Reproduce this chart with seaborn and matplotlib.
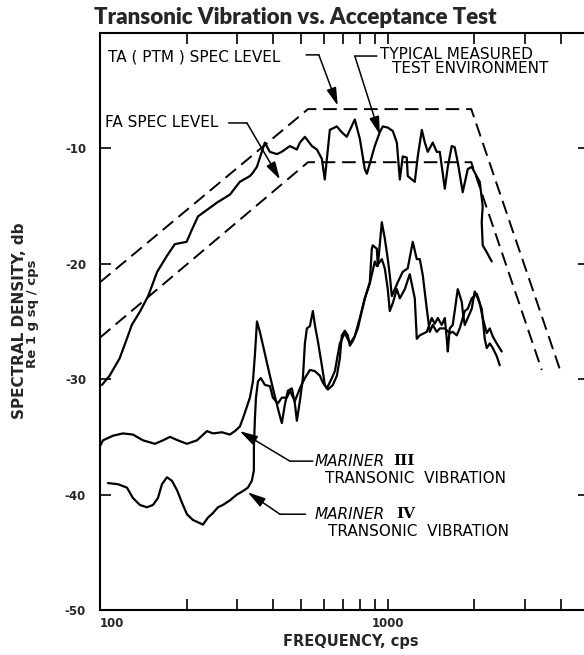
import matplotlib
matplotlib.use('Agg')
import matplotlib.pyplot as plt
import seaborn as sns
from matplotlib.ticker import NullFormatter

# spec levels, frequency (cps) vs spectral density (db)
ta_freq = [100, 528, 1950, 3956]
ta_db = [-21.6, -6.6, -6.6, -29.1]
fa_freq = [100, 528, 1950, 3427]
fa_db = [-26.4, -11.2, -11.2, -29.2]

# typical measured test environment
typ_freq = [101.6, 108, 117, 124, 129, 138, 147, 158, 171, 182,
            200, 209, 219, 255, 283, 306, 332, 340, 351, 365,
            374, 389, 412, 428, 457, 483, 495, 515, 545, 567,
            590, 604, 629, 665, 692, 720, 768, 800, 832, 846,
            901, 938, 961, 1000, 1041, 1075, 1101, 1127, 1164, 1173,
            1241, 1271, 1313, 1345, 1377, 1433, 1479, 1516, 1578, 1616,
            1668, 1708, 1750, 1821, 1896, 1957, 2005, 2087, 2137, 2120,
            2137, 2207, 2297]
typ_db = [-30.5, -29.7, -28.2, -26.5, -25.3, -24.1, -22.8, -20.7, -19.3, -18.3,
          -18.1, -17.0, -15.9, -14.7, -14.0, -12.9, -12.4, -12.1, -11.6, -10.3,
          -9.5, -10.3, -10.5, -10.3, -9.8, -10.1, -9.5, -9.0, -9.8, -10.1,
          -10.9, -12.7, -8.4, -8.1, -8.6, -9.0, -7.5, -9.2, -11.8, -12.2,
          -9.8, -8.6, -8.1, -8.2, -8.5, -9.5, -12.7, -10.7, -10.8, -12.4,
          -12.9, -10.7, -8.4, -9.5, -10.3, -9.5, -10.3, -10.3, -13.5, -11.6,
          -9.8, -9.9, -11.2, -13.8, -11.8, -11.6, -12.1, -12.9, -15.0, -16.4,
          -18.4, -19.0, -19.8]

# Mariner III transonic vibration
m3_low_freq = [100, 102.4, 110.9, 120.2, 130.2, 141.1, 155.2, 165.5, 175.0, 186.6,
               200.5, 217.2, 235.3, 246.9, 265.3, 282.7, 294.3, 306.3, 313.7, 318.8,
               331.8, 339.9, 345.4, 351.1]
m3_low_db = [-35.8, -35.3, -34.9, -34.7, -34.8, -35.3, -35.6, -35.3, -35.0, -35.3,
             -35.6, -35.3, -34.5, -34.7, -34.6, -34.8, -34.5, -34.1, -33.4, -32.9,
             -31.6, -30.2, -27.9, -25.0]
m3_high_freq = [359.4, 374.1, 389.4, 405.3, 421.7, 428.5, 438.9, 449.6, 464.2, 475.5,
                483.1, 494.9, 507.0, 515.2, 523.5, 536.3, 549.1, 558.0, 571.5, 590.0,
                604.4, 619.2, 644.5, 665.4, 681.3, 692.3, 709.1, 726.4, 738.2, 755.8,
                786.9, 812.5, 832.2, 866.0, 880.0, 887.0, 915.9, 923.4, 953.2, 976.3,
                1000, 1016, 1033, 1058, 1083, 1127, 1173, 1221, 1261, 1292,
                1323, 1366, 1399, 1433, 1479, 1516, 1578, 1642, 1681, 1736,
                1778, 1851, 1896, 1957, 2038, 2087, 2137, 2207, 2261, 2316,
                2390, 2488]
m3_high_db = [-25.9, -27.8, -29.7, -31.5, -33.2, -33.8, -32.2, -31.0, -30.8, -32.1,
              -33.6, -31.9, -29.9, -26.9, -25.6, -25.4, -24.1, -25.3, -26.7, -28.8,
              -30.5, -30.9, -30.5, -29.7, -28.2, -26.2, -25.8, -26.2, -27.1, -26.7,
              -25.6, -24.1, -23.0, -21.6, -18.7, -18.4, -18.7, -20.2, -16.4, -17.8,
              -19.6, -21.0, -22.8, -22.2, -21.6, -20.7, -20.4, -18.1, -19.6, -19.6,
              -21.0, -23.9, -25.9, -25.3, -25.9, -25.6, -25.6, -26.0, -25.9, -26.2,
              -25.6, -24.1, -23.9, -23.0, -22.6, -23.4, -24.7, -26.0, -25.6, -26.3,
              -26.9, -27.6]

# Mariner IV transonic vibration
m4_low_freq = [106.6, 115.5, 124.1, 130.2, 137.7, 145.6, 152.8, 159.0, 164.2, 170.9,
               177.8, 185.1, 192.7, 200.5, 210.4, 227.9, 237.1, 246.9, 256.9, 267.3,
               282.7, 299.0, 313.7, 326.5, 337.1, 342.6, 342.6, 345.4, 348.3, 353.9,
               362.2]
m4_low_db = [-39.0, -39.1, -39.4, -40.3, -40.9, -41.1, -40.9, -40.3, -39.1, -38.5,
             -38.8, -39.6, -40.7, -41.7, -42.2, -42.6, -42.0, -41.6, -41.1, -40.9,
             -40.5, -40.0, -39.7, -39.4, -38.8, -37.9, -35.9, -33.4, -31.6, -30.2,
             -29.9]
m4_high_freq = [374.1, 389.4, 398.8, 415.1, 428.5, 446.0, 456.9, 475.5, 494.9, 515.2,
                536.3, 558.0, 580.7, 594.8, 614.2, 639.3, 655, 681.3, 709.1, 738.2,
                767.6, 799.6, 832.2, 866.0, 901.4, 915.9, 953.2, 976.3, 1000, 1016,
                1041, 1075, 1101, 1146, 1192, 1241, 1261, 1292, 1366, 1422,
                1455, 1492, 1540, 1578, 1603, 1616, 1642, 1681, 1708, 1750,
                1807, 1821, 1851, 1896, 1957, 2005, 2054, 2120, 2172, 2207,
                2261, 2316, 2390, 2449]
m4_high_db = [-30.5, -30.6, -31.6, -32.1, -31.6, -31.6, -31.0, -31.9, -30.8, -29.9,
              -29.2, -29.3, -29.7, -30.3, -30.8, -29.9, -29.3, -26.9, -26.0, -26.9,
              -26.3, -24.7, -23.0, -21.7, -19.8, -20.2, -19.6, -20.4, -22.2, -24.1,
              -23.4, -22.2, -23.0, -22.2, -20.9, -23.0, -26.5, -26.2, -25.9, -24.7,
              -25.2, -24.7, -25.3, -24.7, -26.5, -27.6, -25.6, -25.3, -24.1, -22.2,
              -23.3, -24.1, -25.3, -24.7, -23.9, -22.4, -23.0, -23.9, -26.5, -27.3,
              -26.9, -27.3, -28.0, -28.8]

x_major = [100, 1000]
x_major_labels = ['100', '1000']
x_minor = [200, 300, 400, 500, 600, 700, 800, 900, 2000, 3000, 4000]
y_ticks = [-50, -40, -30, -20, -10]
y_labels = ['-50', '-40', '-30', '-20', '-10']

sns.set_style('ticks')
plt.rcParams['font.family'] = ['DejaVu Sans']

fig = plt.figure(figsize=(5.84, 6.55), dpi=100)
ax = fig.add_axes([0.1712, 0.0687, 0.8373, 0.881])
ax.set_xscale('log')

solid = dict(color='black', lw=1.6, sort=False, estimator=None, ax=ax)
dash = dict(color='black', lw=1.4, sort=False, estimator=None, ax=ax,
            linestyle=(0, (7, 3.5)))

sns.lineplot(x=ta_freq, y=ta_db, **dash)
sns.lineplot(x=fa_freq, y=fa_db, **dash)
sns.lineplot(x=typ_freq, y=typ_db, **solid)
sns.lineplot(x=m3_low_freq + m3_high_freq, y=m3_low_db + m3_high_db, **solid)
sns.lineplot(x=m4_low_freq + m4_high_freq, y=m4_low_db + m4_high_db, **solid)

ax.set_xlim(100, 5000)
ax.set_ylim(-50, 0)
ax.set_xticks(x_major, labels=x_major_labels)
ax.set_xticks(x_minor, minor=True)
ax.xaxis.set_minor_formatter(NullFormatter())
ax.set_yticks(y_ticks, labels=y_labels)
ax.tick_params(which='both', direction='in', top=True, right=True,
               length=8, width=1.2, color='black')
ax.tick_params(axis='x', labelsize=8.5, pad=5)
ax.tick_params(axis='y', labelsize=8.5, pad=10)
for lab in ax.get_xticklabels() + ax.get_yticklabels():
    lab.set_fontweight('bold')
ax.get_xticklabels()[0].set_horizontalalignment('left')
for side in ['left', 'bottom', 'top', 'right']:
    ax.spines[side].set_linewidth(1.5)
    ax.spines[side].set_color('black')


def callout(start, elbow, tip):
    line = dict(color='black', lw=1.1, shrinkA=0, shrinkB=0)
    ax.annotate('', xy=elbow, xytext=start, arrowprops=dict(arrowstyle='-', **line))
    ax.annotate('', xy=tip, xytext=elbow,
                arrowprops=dict(arrowstyle='-|>,head_length=0.9,head_width=0.25',
                                mutation_scale=12, **line))


lab = dict(fontsize=11, color='black', va='center', ha='left')
ax.text(106.6, -2.1, 'TA ( PTM ) SPEC LEVEL', **lab)
callout((520, -1.9), (576, -1.9), (670, -6.3))

ax.text(938, -1.9, 'TYPICAL MEASURED', **lab)
ax.text(1033, -3.1, 'TEST ENVIRONMENT', **lab)
callout((916, -2.0), (768, -2.0), (938, -8.8))

ax.text(104, -7.8, 'FA SPEC LEVEL', **lab)
callout((280, -7.8), (324, -7.8), (422, -12.7))

ax.text(558, -37.1, 'MARINER', style='italic', **lab)
ax.text(1045, -37.1, 'III', family='DejaVu Serif', fontweight='bold', **lab)
ax.text(604, -38.6, 'TRANSONIC  VIBRATION', **lab)
callout((549, -37.1), (457, -37.1), (306, -34.5))

ax.text(558, -41.7, 'MARINER', style='italic', **lab)
ax.text(1070, -41.7, 'IV', family='DejaVu Serif', fontweight='bold', **lab)
ax.text(619, -43.2, 'TRANSONIC  VIBRATION', **lab)
callout((518, -41.7), (422, -41.7), (326, -39.8))

fig.text(0.505, 0.963, 'Transonic Vibration vs. Acceptance Test',
         family=['Lato', 'DejaVu Sans'], fontweight='heavy', fontsize=16,
         ha='center', va='baseline')
fig.text(0.034, 0.511, 'SPECTRAL DENSITY, db', rotation=90, fontsize=11,
         fontweight='bold', ha='center', va='center')
fig.text(0.0565, 0.521, 'Re 1 g sq / cps', rotation=90, fontsize=9.5,
         fontweight='bold', ha='center', va='center')
fig.text(0.601, 0.021, 'FREQUENCY, cps', fontsize=10.5, fontweight='bold',
         ha='center', va='center')

fig.savefig('out.png', dpi=100)
